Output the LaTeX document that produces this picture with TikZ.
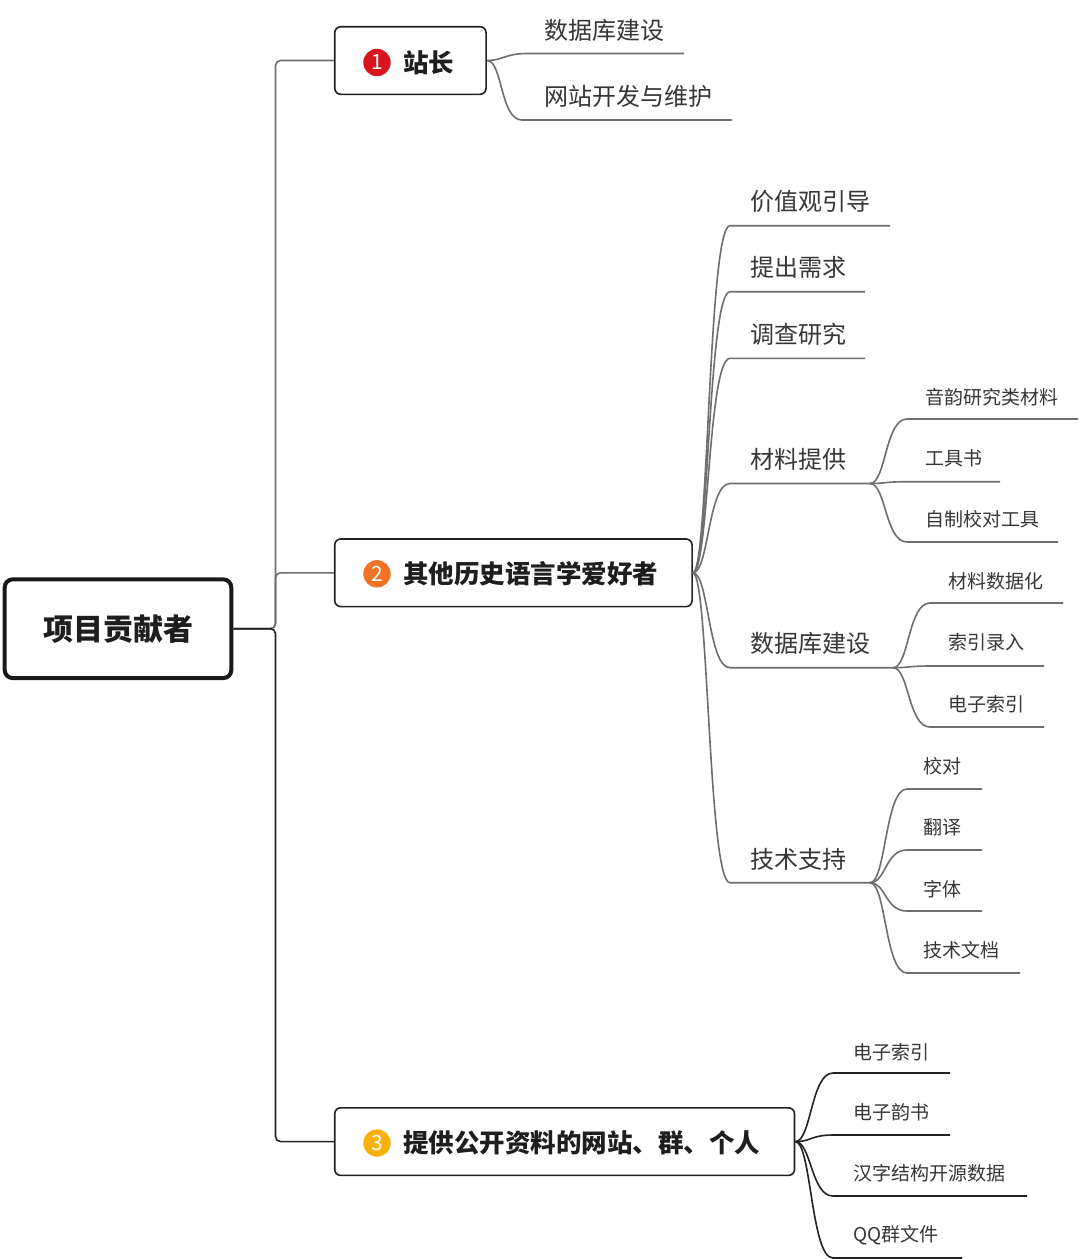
\documentclass[tikz,border=0pt]{standalone}
\usepackage{fontspec}
\setmainfont{Noto Sans CJK SC}
\usetikzlibrary{calc}
\definecolor{lgray}{HTML}{6E6E6E}
\definecolor{ldark}{HTML}{222222}
\definecolor{txt}{HTML}{363636}
\definecolor{mtxt}{HTML}{1E1E1E}
\definecolor{nred}{HTML}{D8141E}
\definecolor{norange}{HTML}{F37326}
\definecolor{namber}{HTML}{F9B10A}
% #1 name, #2 parent, #3 line style, #4 text style, #5 underline start x, #6 underline y, #7 underline end x, #8 text pos, #9 text
\newcommand\mleaf[9]{%
  \coordinate (#1s) at (#5,#6);
  \coordinate (#1e) at (#7,#6);
  \node[#4] (#1) at (#8) {#9};
  \draw[#3] (#2) .. controls +(16,0) and +(-22,0) .. (#1s) -- (#1e);
}
\tikzset{
  gl/.style={draw=lgray, line width=1.6pt},
  dl/.style={draw=ldark, line width=1.6pt},
  lone/.style={anchor=west, inner sep=0pt, text=txt, font=\fontsize{24}{28}\selectfont},
  ltwo/.style={anchor=west, inner sep=0pt, text=txt, font=\fontsize{19}{23}\selectfont},
  mbox/.style={draw=ldark, line width=1.6pt, rounded corners=6pt, fill=white, minimum height=67.6pt, inner sep=0pt},
  rbox/.style={draw=black!90, line width=4pt, rounded corners=8pt, fill=white, minimum width=226.6pt, minimum height=98.7pt, inner sep=0pt, text=mtxt, font=\fontsize{30}{34}\selectfont\bfseries},
  numc/.style={circle, inner sep=0pt, minimum size=27.4pt, text=white, font=\fontsize{21}{21}\selectfont},
  mlbl/.style={anchor=west, inner sep=0pt, text=mtxt, font=\fontsize{25.5}{30}\selectfont\bfseries},
}
\begin{document}
\begin{tikzpicture}[x=1pt,y=-1pt]
\useasboundingbox (0,0) rectangle (1080,1259);
\fill[white] (0,0) rectangle (1080,1259);

\coordinate (tr) at (275.5,628.7);
\node[rbox] (root) at (118,628.7) {项目贡献者};
\node[mbox, minimum width=151.3pt] (b1) at (410.4,60.5) {};
\node[mbox, minimum width=357.3pt] (b2) at (513.4,572.8) {};
\node[mbox, minimum width=459.8pt] (b3) at (564.6,1141.6) {};

\draw[gl, rounded corners=5pt] (root.east) -- (tr) |- (b1.west);
\draw[gl, rounded corners=5pt] (root.east) -- (tr) |- (b2.west);
\draw[dl, rounded corners=5pt] (root.east) -- (tr) |- (b3.west);

% numbered markers and main labels
\node[numc, fill=nred] (n1) at (377,62.5) {1};
\node[numc, fill=norange] (n2) at (377,573.8) {2};
\node[numc, fill=namber] (n3) at (377,1143) {3};
\node[mlbl] (t1) at (403,62.5) {站长};
\node[mlbl] (t2) at (403,573.3) {其他历史语言学爱好者};
\node[mlbl] (t3) at (403,1143.3) {提供公开资料的网站、群、个人};

% branch 1
\mleaf{a1}{b1.east}{gl}{lone}{527}{53.5}{684}{544,30}{数据库建设}
\mleaf{a2}{b1.east}{gl}{lone}{522}{120}{732}{544,96.5}{网站开发与维护}

% branch 2
\mleaf{c1}{b2.east}{gl}{lone}{730}{225.7}{890}{750,201}{价值观引导}
\mleaf{c2}{b2.east}{gl}{lone}{730}{291.7}{865}{750,267.5}{提出需求}
\mleaf{c3}{b2.east}{gl}{lone}{730}{358.3}{865}{750,334}{调查研究}
\mleaf{c4}{b2.east}{gl}{lone}{730}{483.5}{870}{750,459}{材料提供}
\mleaf{c5}{b2.east}{gl}{lone}{730}{667.7}{893}{750,643.4}{数据库建设}
\mleaf{c6}{b2.east}{gl}{lone}{730}{882.7}{870}{750,859}{技术支持}

\mleaf{d1}{c4e}{gl}{ltwo}{907}{419}{1078}{925,397.5}{音韵研究类材料}
\mleaf{d2}{c4e}{gl}{ltwo}{907}{481.7}{1000}{925,458.5}{工具书}
\mleaf{d3}{c4e}{gl}{ltwo}{907}{542}{1058}{925,519}{自制校对工具}

\mleaf{e1}{c5e}{gl}{ltwo}{930}{603}{1063}{948,581}{材料数据化}
\mleaf{e2}{c5e}{gl}{ltwo}{930}{666}{1044}{948,642.5}{索引录入}
\mleaf{e3}{c5e}{gl}{ltwo}{930}{727}{1044}{948,704}{电子索引}

\mleaf{f1}{c6e}{gl}{ltwo}{907}{789}{982}{923,766}{校对}
\mleaf{f2}{c6e}{gl}{ltwo}{907}{850}{982}{923,827}{翻译}
\mleaf{f3}{c6e}{gl}{ltwo}{907}{911}{982}{923,889}{字体}
\mleaf{f4}{c6e}{gl}{ltwo}{907}{973}{1020}{923,950}{技术文档}

% branch 3
\mleaf{g1}{b3.east}{dl}{ltwo}{833}{1073}{950}{853,1052}{电子索引}
\mleaf{g2}{b3.east}{dl}{ltwo}{833}{1135}{950}{853,1112}{电子韵书}
\mleaf{g3}{b3.east}{dl}{ltwo}{833}{1196}{1027}{853,1173}{汉字结构开源数据}
\mleaf{g4}{b3.east}{dl}{ltwo}{833}{1258}{962}{853,1235}{QQ群文件}
\end{tikzpicture}
\end{document}
